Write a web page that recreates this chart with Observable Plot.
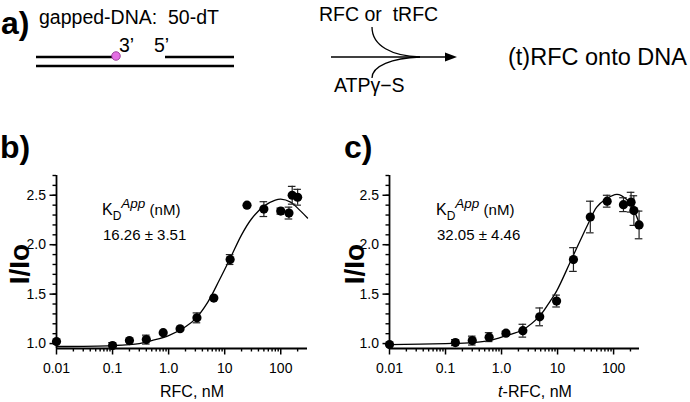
<!DOCTYPE html>
<html><head><meta charset="utf-8">
<script src="https://cdn.jsdelivr.net/npm/d3@7"></script>
<script src="https://cdn.jsdelivr.net/npm/@observablehq/plot@0.6"></script>
<style>
body{margin:0;background:#fff;}
#fig{position:relative;width:690px;height:402px;font-family:"Liberation Sans",Arial,Helvetica,sans-serif;overflow:hidden;background:#fff;}
#fig > svg{position:absolute;}
#fig text{white-space:pre;}
</style></head><body><div id="fig"></div>
<script>
// ---------- data ----------
// panel b: RFC (0 nM plotted at the 0.01 axis origin)
const rfcConc   = [0.01, 0.1, 0.2, 0.4, 0.8, 1.6, 3.2, 6.4, 12.5, 25, 50, 100, 140, 160, 200];
const rfcSignal = [1.02, 0.98, 1.03, 1.04, 1.11, 1.15, 1.26, 1.46, 1.85, 2.40, 2.36, 2.34, 2.32, 2.50, 2.48];
const rfcError  = [0, 0.03, 0.01, 0.045, 0, 0, 0.05, 0, 0.05, 0, 0.075, 0.03, 0.06, 0.09, 0.08];
const rfcFitConc   = [0.01, 0.1, 0.3, 0.5, 1, 2, 3, 5, 8, 12.5, 20, 30, 50, 80, 100, 150, 200, 300];
const rfcFitSignal = [0.97, 0.98, 1.00, 1.03, 1.08, 1.17, 1.25, 1.42, 1.64, 1.86, 2.10, 2.26, 2.39, 2.45, 2.46, 2.43, 2.37, 2.27];

// panel c: t-RFC
const trfcConc   = [0.01, 0.15, 0.3, 0.6, 1.2, 2.4, 4.8, 9.6, 19.2, 38.4, 76.8, 150, 205, 230, 285];
const trfcSignal = [0.99, 1.01, 1.03, 1.065, 1.105, 1.13, 1.27, 1.43, 1.85, 2.28, 2.44, 2.405, 2.43, 2.345, 2.20];
const trfcError  = [0, 0.03, 0.045, 0.045, 0.02, 0.065, 0.09, 0.06, 0.12, 0.16, 0.06, 0.07, 0.10, 0.15, 0.14];
const trfcFitConc   = [0.01, 0.1, 0.3, 0.6, 1.2, 2.4, 4.8, 7.4, 9.6, 18, 35, 50, 72, 115, 170, 225, 290];
const trfcFitSignal = [0.99, 1.00, 1.01, 1.03, 1.08, 1.14, 1.28, 1.43, 1.53, 1.86, 2.21, 2.38, 2.46, 2.51, 2.46, 2.36, 2.21];

// ticks
const xMajorTicks  = [0.01, 0.1, 1, 10, 100];
const xMajorLabels = ["0.01", "0.1", "1.0", "10", "100"];
const yMajorTicks  = [1.0, 1.5, 2.0, 2.5];
const yMajorLabels = ["1.0", "1.5", "2.0", "2.5"];

// annotation texts
const kdB = "16.26 \u00b1 3.51";
const kdC = "32.05 \u00b1 4.46";

// ---------- helpers ----------
const FONT = '"Liberation Sans", Arial, Helvetica, sans-serif';
function rows(xs, ys, es) { return xs.map((x, i) => ({x, y: ys[i], e: es ? es[i] : 0})); }
const xMinorTicks = [];
for (let k = -2; k <= 2; k++) for (let m = 2; m <= 9; m++) xMinorTicks.push(+(m * Math.pow(10, k)).toPrecision(3));
const yMinorTicks = d3.range(10, 28).map(v => v / 10);

function panel({pts, fit, xDomain, marginLeft, marginRight}) {
  const yDomain = [0.95, 2.7];
  const width = 345, height = 237, marginTop = 10, marginBottom = 54;
  const decadePx = (width - marginLeft - marginRight) / Math.log10(xDomain[1] / xDomain[0]);
  const capK = Math.pow(10, 3.8 / decadePx);
  const withErr = pts.filter(d => d.e > 0);
  const xMinor = xMinorTicks.filter(v => v > xDomain[0] && v < xDomain[1]);
  const xLab = new Map(xMajorTicks.map((t, i) => [t, xMajorLabels[i]]));
  const yLab = new Map(yMajorTicks.map((t, i) => [t, yMajorLabels[i]]));
  return Plot.plot({
    width, height, marginLeft, marginRight, marginTop, marginBottom,
    x: {type: "log", domain: xDomain},
    y: {domain: yDomain},
    style: {fontFamily: FONT, fontSize: "14px", color: "#000", background: "transparent", overflow: "visible"},
    marks: [
      Plot.axisX({ticks: xMinor, tickSize: 3.5, strokeWidth: 1.4, tickFormat: () => "", label: null}),
      Plot.axisX({ticks: xMajorTicks, tickSize: 6.5, tickPadding: 8, strokeWidth: 1.5, tickFormat: d => xLab.get(d), label: null, fontSize: 14}),
      Plot.axisY({ticks: yMinorTicks, tickSize: 3.5, strokeWidth: 1.4, tickFormat: () => "", label: null}),
      Plot.axisY({ticks: yMajorTicks, tickSize: 6.5, tickPadding: 4, strokeWidth: 1.5, tickFormat: d => yLab.get(d), label: null, fontSize: 14}),
      Plot.ruleX([xDomain[0]], {stroke: "#000", strokeWidth: 1.8}),
      Plot.ruleY([yDomain[0]], {stroke: "#000", strokeWidth: 1.8}),
      Plot.line(fit, {x: "x", y: "y", curve: "catmull-rom", stroke: "#000", strokeWidth: 1.3}),
      Plot.ruleX(withErr, {x: "x", y1: d => d.y - d.e, y2: d => d.y + d.e, stroke: "#222", strokeWidth: 1.2}),
      Plot.ruleY(withErr, {y: d => d.y + d.e, x1: d => d.x / capK, x2: d => d.x * capK, stroke: "#222", strokeWidth: 1.2}),
      Plot.ruleY(withErr, {y: d => d.y - d.e, x1: d => d.x / capK, x2: d => d.x * capK, stroke: "#222", strokeWidth: 1.2}),
      Plot.dot(pts, {x: "x", y: "y", r: 4.6, fill: "#000", stroke: "none"})
    ]
  });
}

const fig = document.getElementById("fig");

const plotB = panel({
  pts: rows(rfcConc, rfcSignal, rfcError),
  fit: rows(rfcFitConc, rfcFitSignal),
  xDomain: [0.01, 300], marginLeft: 56, marginRight: 38
});
plotB.style.left = "0px"; plotB.style.top = "165px";
fig.appendChild(plotB);

const plotC = panel({
  pts: rows(trfcConc, trfcSignal, trfcError),
  fit: rows(trfcFitConc, trfcFitSignal),
  xDomain: [0.01, 290], marginLeft: 44, marginRight: 51
});
plotC.style.left = "345px"; plotC.style.top = "165px";
fig.appendChild(plotC);

// ---------- overlay: schematic (panel a) and text ----------
const svg = d3.select(fig).append("svg")
  .attr("width", 690).attr("height", 402)
  .style("left", "0px").style("top", "0px").style("pointer-events", "none")
  .attr("font-family", FONT);

function txt(x, y, s, size, opts = {}) {
  const t = svg.append("text").attr("x", x).attr("y", y).attr("font-size", size).attr("fill", "#000")
    .attr("xml:space", "preserve").text(s);
  if (opts.bold) t.attr("font-weight", "bold");
  if (opts.anchor) t.attr("text-anchor", opts.anchor);
  return t;
}

// panel labels
txt(1, 34, "a)", 32, {bold: true});
txt(0, 158, "b)", 32, {bold: true});
txt(344, 158, "c)", 32, {bold: true});

// schematic
txt(39, 24, "gapped-DNA:  50-dT", 19.5);
txt(119, 52, "3\u2019", 19.5);
txt(154, 52, "5\u2019", 19.5);
const strand = (x1, y1, x2, y2) => svg.append("line").attr("x1", x1).attr("y1", y1).attr("x2", x2).attr("y2", y2).attr("stroke", "#000").attr("stroke-width", 2.6);
strand(36, 57, 114, 57);
strand(165, 57, 234, 57);
strand(36, 66, 234, 66);
svg.append("circle").attr("cx", 116).attr("cy", 56).attr("r", 4.3).attr("fill", "#e36fe3").attr("stroke", "#8a2b8a").attr("stroke-width", 0.8);

svg.append("line").attr("x1", 331).attr("y1", 57).attr("x2", 447).attr("y2", 57).attr("stroke", "#000").attr("stroke-width", 1.5);
svg.append("path").attr("d", "M457,57 L445,52.5 L445,61.5 Z").attr("fill", "#000");
svg.append("path").attr("d", "M372,27 C372,46 392,56 420,57").attr("fill", "none").attr("stroke", "#000").attr("stroke-width", 1.3);
svg.append("path").attr("d", "M372,78 C372,66 392,58 420,57").attr("fill", "none").attr("stroke", "#000").attr("stroke-width", 1.3);
txt(319, 21, "RFC or  tRFC", 19.5);
txt(334, 92, "ATP\u03b3\u2212S", 19.5);
txt(508, 65, "(t)RFC onto DNA", 23.5);

// y-axis titles
function ylab(cx, cy) {
  svg.append("text").attr("transform", `translate(${cx},${cy}) rotate(-90)`)
    .attr("text-anchor", "middle").attr("font-size", 28).attr("font-weight", "bold").attr("fill", "#000")
    .text("I/Io");
}
ylab(29, 264);
ylab(364, 264);

// x-axis titles
txt(192, 397, "RFC, nM", 16, {anchor: "middle"});
const tc = svg.append("text").attr("x", 535).attr("y", 397).attr("font-size", 16).attr("text-anchor", "middle").attr("fill", "#000");
tc.append("tspan").attr("font-style", "italic").text("t");
tc.append("tspan").text("-RFC, nM");

// K_D^App annotations
function kd(x, val) {
  const t = svg.append("text").attr("x", x).attr("y", 215).attr("font-size", 16).attr("fill", "#000").attr("xml:space", "preserve");
  t.append("tspan").text("K");
  t.append("tspan").attr("font-size", 12).attr("dy", 4.5).text("D");
  t.append("tspan").attr("font-size", 13.5).attr("font-style", "italic").attr("dy", -12).text("App");
  t.append("tspan").attr("font-size", 15).attr("dy", 7.5).text(" (nM)");
  svg.append("text").attr("x", x + 1).attr("y", 240).attr("font-size", 15).attr("fill", "#000").text(val);
}
kd(102, kdB);
kd(436, kdC);
</script></body></html>
